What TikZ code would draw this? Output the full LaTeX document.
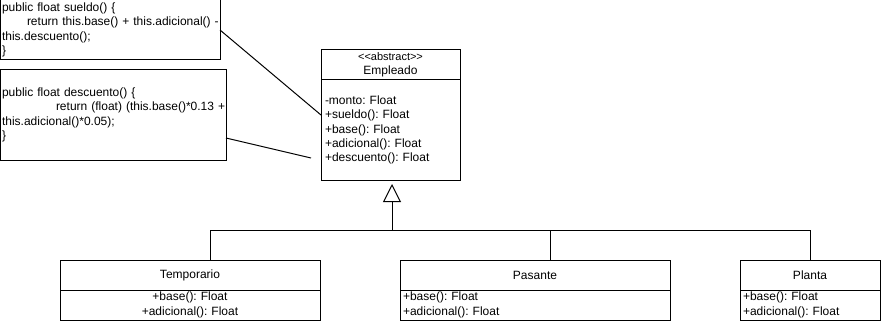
\documentclass[tikz,border=0pt]{standalone}
\usepackage{fontspec}
\setmainfont{Liberation Sans}
\usetikzlibrary{positioning,arrows.meta}
\frenchspacing

\begin{document}
\begin{tikzpicture}[x=1pt, y=-1pt, line width=1pt,
  every node/.style = {font=\fontsize{12}{14.4}\selectfont, outer sep=0pt},
  box/.style = {draw, anchor=north west, inner sep=0pt},
  note/.style = {box, align=left, inner xsep=2pt},
  head/.style = {box, minimum width=#1, minimum height=30pt, align=center},
  body/.style 2 args = {draw, below=0pt of #1, text width=#2, inner xsep=3pt, inner ysep=0pt, minimum height=30pt},
  inherit/.style = {-{Triangle[open, length=18pt, width=18pt]}, shorten >=4pt}]
  \useasboundingbox (0,0) rectangle (881,321);

  % notes
  \node[note, text width=216pt, minimum height=60pt] (sueldo) at (0,0)
    {public float sueldo() \{\\
     \mbox{\hspace*{25pt}return this.base() + this.adicional() -}\\
     this.descuento();\\
     \}};
  \node[note, text width=222pt, minimum height=90pt] (desc) at (0,70)
    {public float descuento() \{\\
     \mbox{\hspace*{54pt}return (float) (this.base()*0.13 +}\\
     this.adicional()*0.05);\\
     \}};

  % abstract class
  \node[head=139pt] (emp) at (321,50)
    {{\fontsize{11}{13}\selectfont <{}<abstract>{}>}\\Empleado};
  \node[body={emp}{131pt}, inner xsep=4pt, minimum height=100pt, align=left] (empb)
    {-monto: Float\\+sueldo(): Float\\+base(): Float\\+adicional(): Float\\+descuento(): Float};

  % subclasses
  \node[head=260pt] (tmp) at (60,260) {Temporario};
  \node[body={tmp}{254pt}, align=center] (tmpb) {+base(): Float\\+adicional(): Float};
  \node[head=270pt] (pas) at (400,260) {Pasante};
  \node[body={pas}{264pt}, align=left] (pasb) {+base(): Float\\+adicional(): Float};
  \node[head=140pt] (pla) at (740,260) {Planta};
  \node[body={pla}{134pt}, align=left] (plab) {+base(): Float\\+adicional(): Float};

  % note links
  \coordinate (tip) at (311,158);
  \draw (sueldo.east) -- ([yshift=15pt]empb.west);
  \draw ([yshift=-23pt]desc.east) -- (tip);

  % generalization
  \coordinate (hub) at (392,230);
  \draw[inherit] (hub) -- (hub |- empb.south);
  \draw ([xshift=20pt]tmp.north) |- (pla.north |- hub) -- (pla.north);
  \draw ([xshift=15pt]pas.north) -- ([xshift=15pt]pas.north |- hub);
\end{tikzpicture}
\end{document}
